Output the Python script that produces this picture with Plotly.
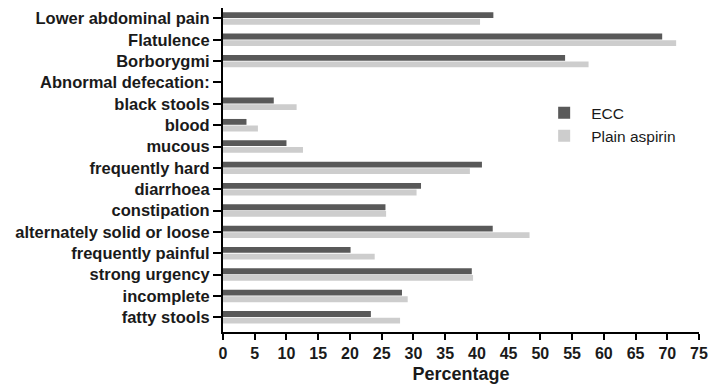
import plotly.graph_objects as go

categories = [
    "Lower abdominal pain", "Flatulence", "Borborygmi", "Abnormal defecation:",
    "black stools", "blood", "mucous", "frequently hard", "diarrhoea",
    "constipation", "alternately solid or loose", "frequently painful",
    "strong urgency", "incomplete", "fatty stools",
]
ecc = [42.6, 69.2, 53.9, None, 8.0, 3.7, 10.0, 40.8, 31.2, 25.6, 42.5, 20.1, 39.2, 28.2, 23.3]
plain_aspirin = [40.5, 71.4, 57.6, None, 11.6, 5.5, 12.6, 38.9, 30.5, 25.7, 48.3, 23.9, 39.4, 29.1, 27.9]
x_ticks = list(range(0, 80, 5))

font_family = "Liberation Sans, Arial, sans-serif"
text_color = "#1a1a1a"

fig = go.Figure()
fig.add_trace(go.Bar(
    y=categories, x=ecc, orientation="h", name="ECC",
    marker=dict(color="#595959", line=dict(width=0)),
))
fig.add_trace(go.Bar(
    y=categories, x=plain_aspirin, orientation="h", name="Plain aspirin",
    marker=dict(color="#cdcdcd", line=dict(width=0)),
))

n = len(categories)
fig.update_layout(
    width=716, height=389,
    margin=dict(l=223, r=9, t=8, b=53),
    paper_bgcolor="white", plot_bgcolor="white",
    barmode="group", bargap=0.38, bargroupgap=0.12,
    font=dict(family=font_family, color=text_color),
    legend=dict(
        x=0.66, y=0.728, xanchor="left", yanchor="top",
        font=dict(size=15.5, family=font_family, color=text_color),
        bgcolor="rgba(0,0,0,0)", itemwidth=44, tracegroupgap=4,
    ),
    xaxis=dict(
        range=[0, 75], tickmode="array", tickvals=x_ticks,
        ticktext=[str(v) for v in x_ticks],
        showline=True, linecolor="black", linewidth=2,
        ticks="outside", ticklen=6, tickwidth=2, tickcolor="black",
        showgrid=False, zeroline=False,
        tickfont=dict(size=16, weight="bold", family=font_family, color=text_color),
        title=dict(text="Percentage", standoff=6,
                   font=dict(size=18, weight="bold", family=font_family, color=text_color)),
    ),
    yaxis=dict(
        type="category", categoryorder="array", categoryarray=categories,
        range=[n - 1 + 0.69, -0.49],
        showline=True, linecolor="black", linewidth=2,
        ticks="outside", ticklen=8, tickwidth=2, tickcolor="black",
        showgrid=False, zeroline=False,
        tickfont=dict(size=16.5, weight="bold", family=font_family, color=text_color),
    ),
)

fig.write_html("out.html")
